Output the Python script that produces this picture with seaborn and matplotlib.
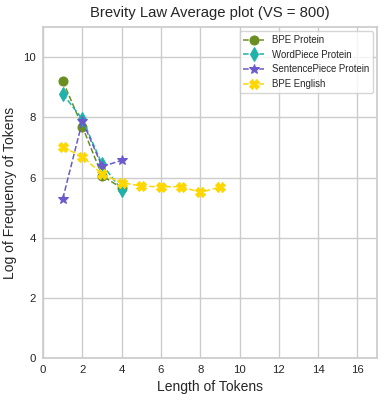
import matplotlib
matplotlib.use("Agg")
import matplotlib.pyplot as plt
import pandas as pd
import seaborn as sns

# token lengths and log frequencies
bpe_protein_len = [1, 2, 3, 4]
bpe_protein_freq = [9.21, 7.69, 6.06, 5.65]

wordpiece_len = [1, 2, 3, 4]
wordpiece_freq = [8.78, 7.94, 6.44, 5.59]

sentencepiece_len = [1, 2, 3, 4]
sentencepiece_freq = [5.30, 7.88, 6.37, 6.57]

bpe_english_len = [1, 2, 3, 4, 5, 6, 7, 8, 9]
bpe_english_freq = [7.01, 6.70, 6.11, 5.83, 5.72, 5.69, 5.70, 5.51, 5.68]

series = [
    ("BPE Protein", bpe_protein_len, bpe_protein_freq, "olivedrab", "o", 6.5),
    ("WordPiece Protein", wordpiece_len, wordpiece_freq, "lightseagreen", "d", 7),
    ("SentencePiece Protein", sentencepiece_len, sentencepiece_freq, "slateblue", "*", 7.5),
    ("BPE English", bpe_english_len, bpe_english_freq, "gold", "X", 7),
]

sns.set_theme(style="whitegrid")
plt.rcParams["font.family"] = ["Liberation Sans", "DejaVu Sans"]

fig, ax = plt.subplots(figsize=(3.82, 4.0), dpi=100)

for name, x, y, color, marker, msize in series:
    df = pd.DataFrame({"length": x, "freq": y})
    sns.lineplot(
        data=df,
        x="length",
        y="freq",
        ax=ax,
        color=color,
        marker=marker,
        markersize=msize,
        markeredgecolor=color,
        linestyle="--",
        linewidth=1.1,
        label=name,
    )

ax.set_xlim(0, 17)
ax.set_ylim(0, 11)
ax.set_xticks(range(0, 17, 2))
ax.set_yticks(range(0, 11, 2))
ax.tick_params(labelsize=8.2, length=0, pad=5)
ax.set_title("Brevity Law Average plot (VS = 800)", fontsize=10.7, pad=7)
ax.set_xlabel("Length of Tokens", fontsize=10, labelpad=4)
ax.set_ylabel("Log of Frequency of Tokens", fontsize=10, labelpad=4.5)
ax.legend(
    loc="upper right",
    fontsize=6.9,
    labelspacing=0.5,
    handlelength=2.2,
    borderaxespad=0.4,
)

fig.subplots_adjust(left=0.113, right=0.987, top=0.932, bottom=0.105)
fig.savefig("out.png", dpi=100)
